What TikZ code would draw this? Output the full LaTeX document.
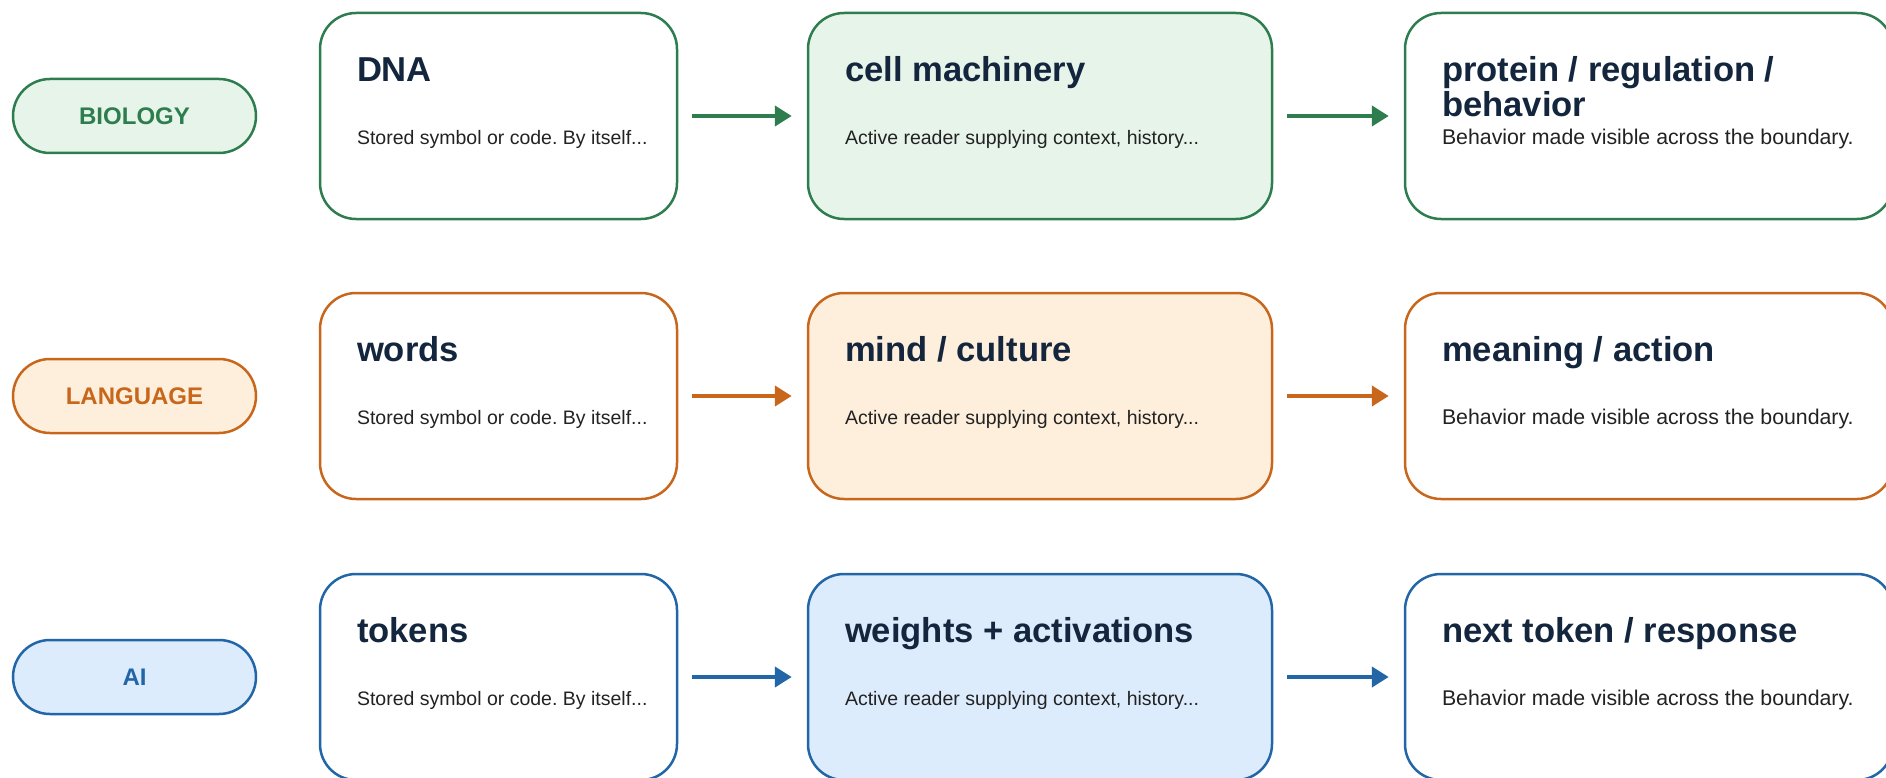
\documentclass[tikz,border=0pt]{standalone}
\usepackage{fontspec}
\setmainfont{Liberation Sans}
\usetikzlibrary{arrows.meta}
\definecolor{bioline}{HTML}{2E7D4F}
\definecolor{biofill}{HTML}{E6F4EA}
\definecolor{langline}{HTML}{C8671C}
\definecolor{langfill}{HTML}{FEEFDC}
\definecolor{ailine}{HTML}{2266A8}
\definecolor{aifill}{HTML}{DDECFD}
\definecolor{headcol}{HTML}{13263D}
\definecolor{bodycol}{HTML}{222222}
\frenchspacing

\begin{document}
\begin{tikzpicture}[x=1pt,y=-1pt,line width=2.5pt,
	pill/.style={draw=#1line,fill=#1fill,rounded corners=37pt,minimum width=243pt,minimum height=74pt,text=#1line,font=\bfseries\fontsize{24}{24}\selectfont},
	card/.style={draw=#1line,fill=white,rounded corners=36pt,minimum height=206pt},
	readcard/.style={card=#1,fill=#1fill},
	head/.style={inner sep=0pt,anchor=base west,align=left,text=headcol,font=\bfseries\fontsize{34.6}{35}\selectfont},
	body/.style={inner sep=0pt,anchor=base west,text=bodycol,font=\fontsize{19.5}{22}\selectfont},
	outbody/.style={body,font=\fontsize{21.3}{24}\selectfont},
	flow/.style={draw=#1line,line width=4.5pt,-{Triangle[length=17pt,width=20pt]},shorten <=14pt,shorten >=15pt}]
	\useasboundingbox (0,0) rectangle (1886,778);
	\clip (0,0) rectangle (1886,778);

	\node[pill=bio] (biology) at (134.5,116) {BIOLOGY};
	\node[card=bio,minimum width=357pt] (dna) at (498.5,116) {};
	\node[readcard=bio,minimum width=464pt] (cell) at (1040,116) {};
	\node[card=bio,minimum width=488pt] (protein) at (1649,116) {};
	\node[head] (dnaH) at ([xshift=37pt,yshift=-70pt]dna.north west) {DNA};
	\node[body] (dnaB) at ([xshift=37pt,yshift=-133pt]dna.north west) {Stored symbol or code. By itself...};
	\node[head] (cellH) at ([xshift=37pt,yshift=-70pt]cell.north west) {cell machinery};
	\node[body] (cellB) at ([xshift=37pt,yshift=-133pt]cell.north west) {Active reader supplying context, history...};
	\node[head] (proteinH) at ([xshift=37pt,yshift=-105pt]protein.north west) {protein / regulation /\\behavior};
	\node[outbody] (proteinB) at ([xshift=37pt,yshift=-133pt]protein.north west) {Behavior made visible across the boundary.};
	\draw[flow=bio] (dna) -- (cell);
	\draw[flow=bio] (cell) -- (protein);

	\node[pill=lang] (language) at (134.5,396) {LANGUAGE};
	\node[card=lang,minimum width=357pt] (words) at (498.5,396) {};
	\node[readcard=lang,minimum width=464pt] (mind) at (1040,396) {};
	\node[card=lang,minimum width=488pt] (meaning) at (1649,396) {};
	\node[head] (wordsH) at ([xshift=37pt,yshift=-70pt]words.north west) {words};
	\node[body] (wordsB) at ([xshift=37pt,yshift=-133pt]words.north west) {Stored symbol or code. By itself...};
	\node[head] (mindH) at ([xshift=37pt,yshift=-70pt]mind.north west) {mind / culture};
	\node[body] (mindB) at ([xshift=37pt,yshift=-133pt]mind.north west) {Active reader supplying context, history...};
	\node[head] (meaningH) at ([xshift=37pt,yshift=-70pt]meaning.north west) {meaning / action};
	\node[outbody] (meaningB) at ([xshift=37pt,yshift=-133pt]meaning.north west) {Behavior made visible across the boundary.};
	\draw[flow=lang] (words) -- (mind);
	\draw[flow=lang] (mind) -- (meaning);

	\node[pill=ai] (ai) at (134.5,677) {AI};
	\node[card=ai,minimum width=357pt] (tokens) at (498.5,677) {};
	\node[readcard=ai,minimum width=464pt] (weights) at (1040,677) {};
	\node[card=ai,minimum width=488pt] (next) at (1649,677) {};
	\node[head] (tokensH) at ([xshift=37pt,yshift=-70pt]tokens.north west) {tokens};
	\node[body] (tokensB) at ([xshift=37pt,yshift=-133pt]tokens.north west) {Stored symbol or code. By itself...};
	\node[head] (weightsH) at ([xshift=37pt,yshift=-70pt]weights.north west) {weights + activations};
	\node[body] (weightsB) at ([xshift=37pt,yshift=-133pt]weights.north west) {Active reader supplying context, history...};
	\node[head] (nextH) at ([xshift=37pt,yshift=-70pt]next.north west) {next token / response};
	\node[outbody] (nextB) at ([xshift=37pt,yshift=-133pt]next.north west) {Behavior made visible across the boundary.};
	\draw[flow=ai] (tokens) -- (weights);
	\draw[flow=ai] (weights) -- (next);
\end{tikzpicture}
\end{document}
